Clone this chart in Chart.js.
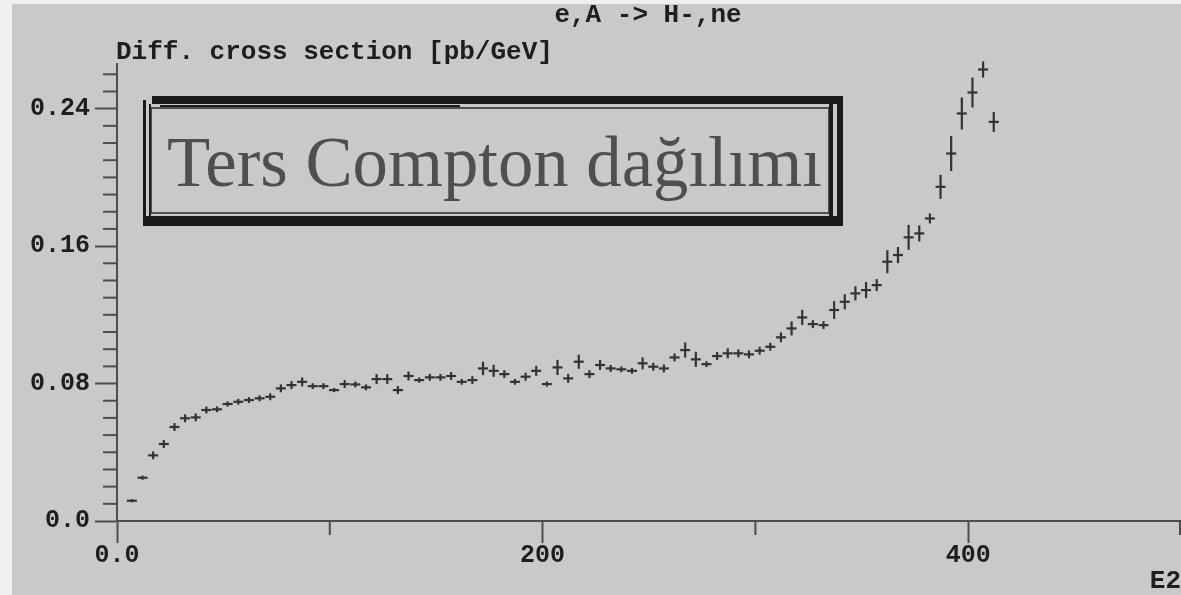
<!DOCTYPE html>
<html>
<head>
<meta charset="utf-8">
<script src="https://cdn.jsdelivr.net/npm/chart.js@4.4.0/dist/chart.umd.min.js"></script>
<style>
  html, body { margin: 0; padding: 0; background: #efefef; }
</style>
</head>
<body>
<canvas id="chart" width="1181" height="595"></canvas>
<script>
// bin centres, GeV
const energies = [
    7, 12, 17, 22, 27, 32, 37, 42, 47, 52,
    57, 62, 67, 72, 77, 82, 87, 92, 97, 102,
    107, 112, 117, 122, 127, 132, 137, 142, 147, 152,
    157, 162, 167, 172, 177, 182, 187, 192, 197, 202,
    207, 212, 217, 222, 227, 232, 237, 242, 247, 252,
    257, 262, 267, 272, 277, 282, 287, 292, 297, 302,
    307, 312, 317, 322, 327, 332, 337, 342, 347, 352,
    357, 362, 367, 372, 377, 382, 387, 392, 397, 402,
    407, 412
];
// diff. cross section, pb/GeV
const crossSection = [
    0.0118, 0.0252, 0.0382, 0.0448, 0.0547, 0.0598, 0.0603, 0.0646, 0.0650, 0.0681,
    0.0694, 0.0704, 0.0714, 0.0723, 0.0772, 0.0791, 0.0810, 0.0785, 0.0785, 0.0762,
    0.0797, 0.0795, 0.0778, 0.0826, 0.0826, 0.0762, 0.0844, 0.0820, 0.0836, 0.0836,
    0.0844, 0.0810, 0.0820, 0.0888, 0.0874, 0.0855, 0.0810, 0.0840, 0.0874, 0.0797,
    0.0894, 0.0830, 0.0927, 0.0855, 0.0908, 0.0888, 0.0883, 0.0874, 0.0918, 0.0898,
    0.0888, 0.0952, 0.0995, 0.0941, 0.0913, 0.0960, 0.0976, 0.0976, 0.0970, 0.0991,
    0.1014, 0.1069, 0.1121, 0.1185, 0.1146, 0.1140, 0.1228, 0.1276, 0.1325, 0.1344,
    0.1373, 0.1509, 0.1548, 0.1651, 0.1674, 0.1761, 0.1945, 0.2139, 0.2372, 0.2494,
    0.2628, 0.2323
];
// half length of the error bars
const errors = [
    0.0009, 0.0012, 0.0023, 0.0023, 0.0023, 0.0023, 0.0023, 0.0020, 0.0017, 0.0015,
    0.0017, 0.0017, 0.0017, 0.0020, 0.0023, 0.0023, 0.0026, 0.0017, 0.0017, 0.0012,
    0.0023, 0.0017, 0.0017, 0.0029, 0.0029, 0.0023, 0.0026, 0.0015, 0.0020, 0.0020,
    0.0023, 0.0017, 0.0023, 0.0039, 0.0035, 0.0023, 0.0017, 0.0023, 0.0029, 0.0015,
    0.0044, 0.0026, 0.0041, 0.0023, 0.0029, 0.0020, 0.0017, 0.0017, 0.0035, 0.0023,
    0.0023, 0.0023, 0.0044, 0.0044, 0.0017, 0.0023, 0.0029, 0.0023, 0.0023, 0.0023,
    0.0023, 0.0029, 0.0041, 0.0044, 0.0023, 0.0023, 0.0052, 0.0044, 0.0041, 0.0047,
    0.0035, 0.0067, 0.0047, 0.0073, 0.0047, 0.0029, 0.0070, 0.0102, 0.0093, 0.0087,
    0.0047, 0.0058
];

const xTickValues = [0, 200, 400];
const xTickLabels = ['0.0', '200', '400'];
const xMinorTicks = [100, 300, 500];
const yTickValues = [0, 0.08, 0.16, 0.24];
const yTickLabels = ['0.0', '0.08', '0.16', '0.24'];

const axisColor = '#4e4e4e';
const markColor = '#333333';
const textColor = '#1e1e1e';
const monoFont = '"Liberation Mono", "DejaVu Sans Mono", monospace';

const decorations = {
    id: 'decorations',
    beforeDraw(chart) {
        const ctx = chart.ctx;
        ctx.save();
        ctx.fillStyle = '#efefef';
        ctx.fillRect(0, 0, chart.width, chart.height);
        ctx.fillStyle = '#c9c9c9';
        ctx.fillRect(12, 4, chart.width - 12, chart.height - 4);
        ctx.restore();
    },
    afterDatasetsDraw(chart) {
        // vertical error bars
        const ctx = chart.ctx;
        const xs = chart.scales.x, ys = chart.scales.y;
        ctx.save();
        ctx.strokeStyle = markColor;
        ctx.lineWidth = 2.2;
        energies.forEach((e, i) => {
            const px = xs.getPixelForValue(e);
            ctx.beginPath();
            ctx.moveTo(px, ys.getPixelForValue(crossSection[i] - errors[i]));
            ctx.lineTo(px, ys.getPixelForValue(crossSection[i] + errors[i]));
            ctx.stroke();
        });
        ctx.restore();
    },
    afterDraw(chart) {
        const ctx = chart.ctx;
        const xs = chart.scales.x, ys = chart.scales.y;
        ctx.save();

        // minor ticks
        ctx.strokeStyle = axisColor;
        ctx.lineWidth = 2;
        for (let i = 1; i <= 26; i++) {
            if (i % 8 === 0) continue;
            const y = ys.getPixelForValue(i / 100);
            ctx.beginPath();
            ctx.moveTo(xs.left - 14, y);
            ctx.lineTo(xs.left, y);
            ctx.stroke();
        }
        xMinorTicks.forEach(v => {
            const x = Math.min(xs.getPixelForValue(v), chart.width - 1);
            ctx.beginPath();
            ctx.moveTo(x, ys.bottom);
            ctx.lineTo(x, ys.bottom + 14);
            ctx.stroke();
        });

        // titles
        ctx.fillStyle = textColor;
        ctx.textBaseline = 'middle';
        ctx.font = 'bold 26px ' + monoFont;
        ctx.textAlign = 'center';
        ctx.fillText('e,A -> H-,ne', 648, 15);
        ctx.textAlign = 'left';
        ctx.fillText('Diff. cross section [pb/GeV]', 116, 52);
        ctx.textAlign = 'right';
        ctx.fillText('E2', 1181, 581);

        // caption box
        ctx.fillStyle = '#1b1b1b';
        ctx.fillRect(152, 96, 690, 8);
        ctx.fillRect(160, 105, 300, 2);
        ctx.fillRect(143, 216, 700, 10);
        ctx.fillRect(143, 100, 3, 126);
        ctx.fillRect(149, 104, 2, 114);
        ctx.fillRect(829, 100, 4, 118);
        ctx.fillRect(837, 96, 6, 130);
        ctx.strokeStyle = '#2a2a2a';
        ctx.lineWidth = 1.5;
        ctx.strokeRect(151, 108, 678, 105);

        ctx.fillStyle = '#4f4f4f';
        ctx.textBaseline = 'alphabetic';
        ctx.textAlign = 'left';
        ctx.font = '71px "Liberation Serif", "DejaVu Serif", serif';
        ctx.fillText('Ters Compton dağılımı', 167, 186, 655);
        ctx.restore();
    }
};

const tickFont = { family: monoFont, size: 25, weight: 'bold', lineHeight: 1 };

new Chart(document.getElementById('chart'), {
    type: 'scatter',
    data: {
        datasets: [{
            data: energies.map((e, i) => ({ x: e, y: crossSection[i] })),
            pointStyle: 'line',
            pointRadius: 5,
            pointBorderWidth: 2.2,
            pointBorderColor: markColor,
            pointBackgroundColor: markColor,
            showLine: false
        }]
    },
    options: {
        responsive: false,
        animation: false,
        // the x axis runs a couple of pixels past the right edge
        layout: { autoPadding: false, padding: { top: 64, right: -2, left: 0, bottom: 0 } },
        plugins: {
            legend: { display: false },
            title: { display: false },
            tooltip: { enabled: false }
        },
        scales: {
            x: {
                type: 'linear',
                min: 0,
                max: 500,
                afterBuildTicks: s => { s.ticks = xTickValues.map(v => ({ value: v })); },
                afterFit: s => {
                    s.height = 74;
                    s.paddingLeft = 0;
                    s.paddingRight = 0;
                },
                grid: { drawOnChartArea: false, drawTicks: true, tickLength: 22, tickColor: axisColor, tickWidth: 2 },
                border: { display: true, color: axisColor, width: 2 },
                ticks: {
                    autoSkip: false,
                    maxRotation: 0,
                    padding: 0,
                    color: textColor,
                    font: tickFont,
                    callback: (v, i) => xTickLabels[i]
                }
            },
            y: {
                min: 0,
                max: 0.266,
                afterBuildTicks: s => { s.ticks = yTickValues.map(v => ({ value: v })); },
                afterFit: s => {
                    s.width = 117;
                    s.paddingTop = 0;
                    s.paddingBottom = 0;
                },
                grid: { drawOnChartArea: false, drawTicks: true, tickLength: 22, tickColor: axisColor, tickWidth: 2 },
                border: { display: true, color: axisColor, width: 2 },
                ticks: {
                    autoSkip: false,
                    padding: 5,
                    color: textColor,
                    font: tickFont,
                    callback: (v, i) => yTickLabels[i]
                }
            }
        }
    },
    plugins: [decorations]
});
</script>
</body>
</html>
